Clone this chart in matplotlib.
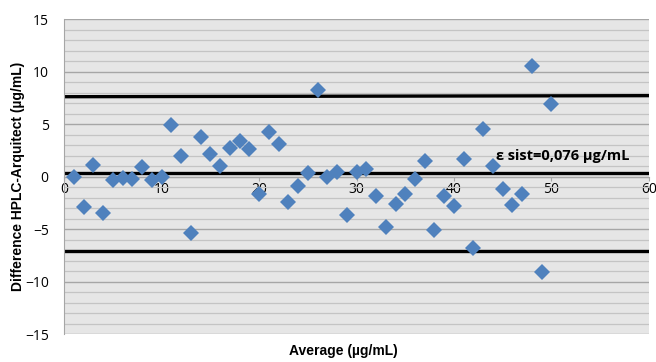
import numpy as np
import matplotlib.pyplot as plt
from matplotlib.ticker import MultipleLocator

# Bland-Altman data
average = list(range(1, 51))
difference = [0.0, -2.9, 1.1, -3.5, -0.3, -0.1, -0.2, 0.9, -0.3, 0.0,
              4.9, 2.0, -5.4, 3.8, 2.1, 1.0, 2.7, 3.4, 2.6, -1.7,
              4.2, 3.1, -2.4, -0.9, 0.35, 8.2, 0.0, 0.4, -3.7, 0.4,
              0.7, -1.9, -4.8, -2.6, -1.7, -0.2, 1.5, -5.1, -1.9, -2.8,
              1.7, -6.8, 4.5, 1.0, -1.2, -2.7, -1.7, 10.5, -9.1, 6.9]
mean_line = 0.3
upper_limit = [7.6, 7.7]
lower_limit = -7.1
label_text = "ε sist=0,076 µg/mL"

plt.rcParams['font.family'] = ['Open Sans', 'DejaVu Sans']

fig = plt.figure(figsize=(6.56, 3.62), dpi=100)
ax = fig.add_axes([0.0976, 0.0773, 0.8917, 0.8702])
ax.set_facecolor('#e6e6e6')

ax.set_xlim(0, 60)
ax.set_ylim(-15, 15)
ax.yaxis.set_major_locator(MultipleLocator(5))
ax.yaxis.set_minor_locator(MultipleLocator(1))
ax.xaxis.set_major_locator(MultipleLocator(10))
ax.grid(which='major', axis='y', color='#a6a6a6', linewidth=1.0)
ax.grid(which='minor', axis='y', color='#c4c4c4', linewidth=0.9)
ax.set_axisbelow(True)

# x axis crosses at zero
ax.spines['bottom'].set_position(('data', 0))
ax.spines['bottom'].set_color('#a6a6a6')
ax.spines['left'].set_color('#a6a6a6')
ax.spines['top'].set_visible(False)
ax.spines['right'].set_visible(False)
ax.tick_params(axis='x', length=3, color='#a6a6a6', labelsize=10, pad=1)
ax.tick_params(axis='y', which='both', length=0, labelsize=10, pad=11)

ax.plot([0, 60], [mean_line, mean_line], color='black', lw=2.4, zorder=2)
ax.plot([0, 60], upper_limit, color='black', lw=2.4, zorder=2)
ax.plot([0, 60], [lower_limit, lower_limit], color='black', lw=2.4, zorder=2)

ax.plot(average, difference, 'D', color='#4f81bd', markersize=8.5,
        markeredgewidth=0, zorder=3)

ax.text(44.3, 2.0, label_text, fontsize=10.5, fontweight='bold',
        va='center', ha='left')

ax.set_xlabel('Average (µg/mL)', fontsize=10, fontweight='bold',
              family=['Liberation Sans', 'DejaVu Sans'])
ax.xaxis.set_label_coords(0.478, -0.033)
ax.set_ylabel('Difference HPLC-Arquitect (µg/mL)', fontsize=10,
              fontweight='bold', family=['Liberation Sans', 'DejaVu Sans'])
ax.yaxis.set_label_coords(-0.067, 0.5)

fig.savefig('out.png', dpi=100)
